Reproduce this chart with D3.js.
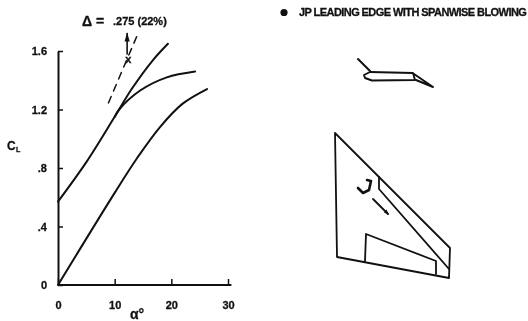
<!DOCTYPE html>
<html><head><meta charset="utf-8">
<script src="https://cdn.jsdelivr.net/npm/d3@7/dist/d3.min.js"></script>
<style>html,body{margin:0;background:#fff}svg{display:block;filter:blur(0.35px)}text{font-family:"Liberation Sans",Arial,sans-serif;font-weight:bold;fill:#111;stroke:#111;stroke-width:.3px}</style>
</head><body><div id="c"></div>
<script>
const xTicks=[0,10,20,30];
const yTicks=[0,.4,.8,1.2,1.6];
const yTickLabels=["0",".4",".8","1.2","1.6"];
const curveLower=[[0,0],[10,.63],[14,.87],[18,1.08],[22,1.24],[26.3,1.34]];
const curveUpper=[[0,.57],[5,.84],[10,1.15],[13,1.34],[16.8,1.54],[19.4,1.65]];
const curveBranch=[[10,1.15],[10.8,1.2],[14.5,1.33],[19.2,1.42],[24.2,1.46]];
const dashedLine=[[8.9,1.245],[13.9,1.70]];
const crossPoint=[12.4,1.545];
const arrowLine=[[12.2,1.58],[12.2,1.72]];
// Sketch outlines, in sketch units
const wingOutline=[[335,133],[450,248],[449,278],[337,257],[335,133]];
const wingSlat=[[379,177],[379,189],[449,269]];
const wingFlap=[[365,261],[366,234],[436,261],[436,274]];
const wingMark=[[358,188],[363,193],[369,190],[371,181],[367,180]];
const wingArrow=[[373,199],[388,214]];
const profileStrut=[[358,59],[370,71]];
const profileBody=[[370,72],[413,73],[415,80],[372,80.5],[365,78],[364,75],[370,72]];
const profileFlap=[[414,74],[433,87],[416,80]];

const W=528,H=321;
const svg=d3.select("#c").append("svg").attr("width",W).attr("height",H);
const x=d3.scaleLinear().domain([0,30]).range([58,228]);
const y=d3.scaleLinear().domain([0,1.6]).range([285,51]);
const line=d3.line().x(d=>x(d[0])).y(d=>y(d[1]));
const smooth=d3.line().x(d=>x(d[0])).y(d=>y(d[1])).curve(d3.curveCatmullRom);
const ink="#111";
const g=svg.append("g").attr("fill","none").attr("stroke",ink).attr("stroke-linecap","round");

// axes
const gx=svg.append("g").attr("transform",`translate(0,${y(0)})`)
 .call(d3.axisBottom(x).tickValues(xTicks).tickSize(-6).tickPadding(16).tickSizeOuter(0));
const gy=svg.append("g").attr("transform",`translate(${x(0)},0)`)
 .call(d3.axisLeft(y).tickValues(yTicks).tickFormat((d,i)=>yTickLabels[i]).tickSize(-5).tickPadding(11).tickSizeOuter(0));
gx.select(".domain").attr("stroke",ink).attr("stroke-width",2).attr("d",`M${x(0)},0H${x(30.6)}`);
gy.select(".domain").attr("stroke",ink).attr("stroke-width",2);
svg.selectAll(".tick line").attr("stroke",ink).attr("stroke-width",1.5);
gx.selectAll("text").attr("font-size",11).attr("font-family","Liberation Sans").attr("font-weight","bold").attr("fill",ink);
gy.selectAll("text").attr("font-size",11).attr("font-family","Liberation Sans").attr("font-weight","bold").attr("fill",ink);

// curves
[curveLower,curveUpper,curveBranch].forEach(c=>g.append("path").attr("d",smooth(c)).attr("stroke-width",2));
g.append("path").attr("d",line(dashedLine)).attr("stroke-width",1.5).attr("stroke-dasharray","7 6");
// cross
svg.append("text").attr("x",x(crossPoint[0])).attr("y",y(crossPoint[1])+3.5).attr("text-anchor","middle").attr("font-size",11).text("x");
// arrow
g.append("path").attr("d",line(arrowLine)).attr("stroke-width",1.6);
const tip=arrowLine[1];
svg.append("path").attr("d",d3.line()([[x(tip[0]),y(tip[1])-1],[x(tip[0])-2.6,y(tip[1])+8],[x(tip[0])+2.6,y(tip[1])+8]])+"Z").attr("fill",ink);

// sketches
const sx=d3.scaleIdentity(),sy=d3.scaleIdentity();
const sk=d3.line().x(d=>sx(d[0])).y(d=>sy(d[1]));
[[wingOutline,1.8],[wingSlat,1.8],[wingFlap,1.8],[wingMark,2.6],[wingArrow,1.8],[profileStrut,2],[profileBody,1.9],[profileFlap,2]]
 .forEach(([p,w])=>g.append("path").attr("d",sk(p)).attr("stroke-width",w).attr("stroke-linejoin","round"));
// small arrow head
svg.append("path").attr("d",sk([[389,215],[384,212.5],[386.5,209.5]])+"Z").attr("fill",ink);

// text
svg.append("text").attr("x",82).attr("y",26).attr("font-size",14).text("Δ =");
svg.append("text").attr("x",113).attr("y",25).attr("font-size",11).text(".275 (22%)");
svg.append("text").attr("x",7).attr("y",150).attr("font-size",12).text("C");
svg.append("text").attr("x",16).attr("y",152).attr("font-size",7).text("L");
svg.append("text").attr("x",130).attr("y",319).attr("font-size",14).text("α°");
svg.append("circle").attr("cx",284).attr("cy",12.5).attr("r",3.6).attr("fill",ink);
svg.append("text").attr("x",299).attr("y",16).attr("font-size",11).attr("letter-spacing",-0.57).text("JP LEADING EDGE WITH SPANWISE BLOWING");
</script></body></html>
